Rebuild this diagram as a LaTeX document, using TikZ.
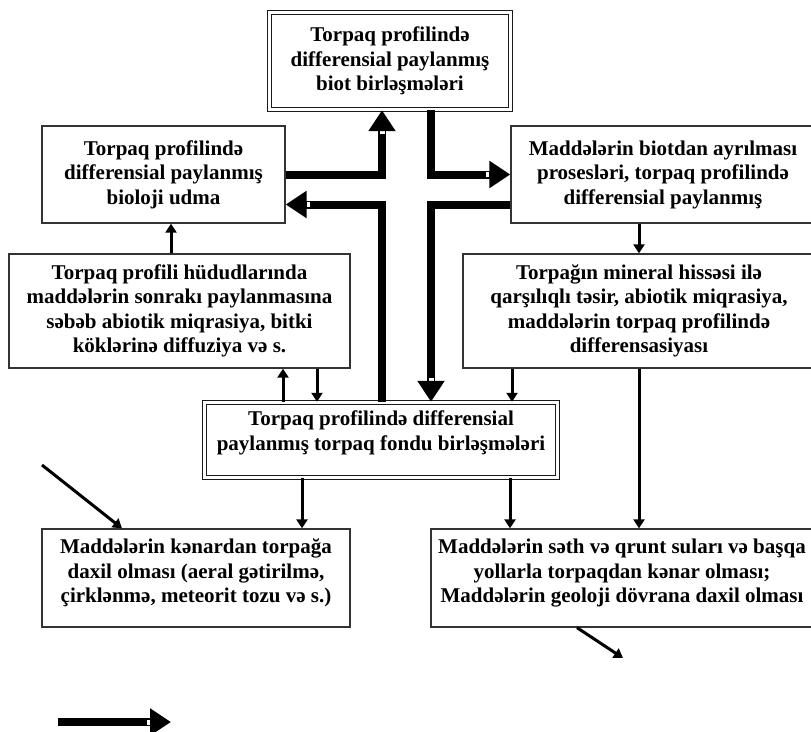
\documentclass[tikz,border=0pt]{standalone}
\usepackage{fontspec}
\setmainfont{Liberation Serif}
\usetikzlibrary{positioning, arrows.meta, calc}

\begin{document}
\begin{tikzpicture}[
    x=1pt, y=-1pt,
    font=\fontsize{21pt}{24.5pt}\selectfont\bfseries,
    kasten/.style={draw=black!80, line width=1.3pt, align=center, inner sep=0pt},
    doppelkasten/.style={kasten, draw=black!90, double, double distance=2.8pt, line width=1.4pt},
    dick/.style={line width=8pt, -{Rectangle[white, length=3pt, width=5pt, sep=0pt] Triangle[length=21pt, width=26pt]}},
    duenn/.style={line width=3pt, -{Triangle[length=9pt, width=11pt]}}
  ]
  \useasboundingbox (0,0) rectangle (811,731);
  \clip (0,0) rectangle (811,731);

  % Kaesten
  \node[doppelkasten, minimum width=241pt, minimum height=97pt] (biot) at (390,61)
    {Torpaq profilində\\ differensial paylanmış\\ biot birləşmələri};
  \node[kasten, minimum width=243pt, minimum height=97pt] (udma) at (163.5,174.5)
    {Torpaq profilində\\ differensial paylanmış\\ bioloji udma};
  \node[kasten, minimum width=304pt, minimum height=97pt] (ayril) at (663,174.5)
    {Maddələrin biotdan ayrılması\\ prosesləri, torpaq profilində\\ differensial paylanmış};
  \node[kasten, minimum width=341pt, minimum height=114pt] (abiot) at (179.5,311)
    {Torpaq profili hüdudlarında\\ maddələrin sonrakı paylanmasına\\ səbəb abiotik miqrasiya, bitki\\ köklərinə diffuziya və s.};
  \node[kasten, minimum width=352pt, minimum height=114pt] (mineral) at (639,311)
    {Torpağın mineral hissəsi ilə\\ qarşılıqlı təsir, abiotik miqrasiya,\\ maddələrin torpaq profilində\\ differensasiyası};
  \node[doppelkasten, minimum width=353pt, minimum height=75pt] (fond) at (381,440)
    {Torpaq profilində differensial\\ paylanmış torpaq fondu birləşmələri\\[-6pt]};
  \node[kasten, minimum width=308pt, minimum height=98pt] (kenar) at (196,578)
    {Maddələrin kənardan torpağa\\ daxil olması (aeral gətirilmə,\\ çirklənmə, meteorit tozu və s.)\\[-10pt]};
  \node[kasten, minimum width=382pt, minimum height=98pt] (geol) at (622,578)
    {Maddələrin səth və qrunt suları və başqa\\ yollarla torpaqdan kənar olması;\\ Maddələrin geoloji dövrana daxil olması\\[-10pt]};

  % Hilfslinien
  \coordinate (xl) at (382,0);
  \coordinate (xr) at (431,0);
  \coordinate (xa) at (171,0);
  \coordinate (xb) at (283,0);
  \coordinate (xc) at (317,0);
  \coordinate (xd) at (512,0);
  \coordinate (xe) at (302,0);
  \coordinate (xf) at (510,0);
  \coordinate (xk) at (122,0);
  \coordinate (xh) at (577,0);
  \coordinate (ein) at (42,465);
  \coordinate (aus) at (623,658);
  \coordinate (leg1) at (58,722);
  \coordinate (leg2) at (171,722);

  % dicke Pfeile
  \draw[dick] (udma.east) -| (biot.south -| xl);
  \draw[dick] (biot.south -| xr) |- (ayril.west);
  \draw[dick] ([yshift=-30pt]ayril.west) -| (fond.north -| xr);
  \draw[dick] (fond.north -| xl) |- ([yshift=-30pt]udma.east);

  % duenne Pfeile
  \draw[duenn] (abiot.north -| xa) -- (udma.south -| xa);
  \draw[duenn] (mineral.north |- ayril.south) -- (mineral.north);
  \draw[duenn] (fond.north -| xb) -- (abiot.south -| xb);
  \draw[duenn] (abiot.south -| xc) -- (fond.north -| xc);
  \draw[duenn] (mineral.south -| xd) -- (fond.north -| xd);
  \draw[duenn] (mineral.south) -- (mineral.south |- geol.north);
  \draw[duenn] (fond.south -| xe) -- (kenar.north -| xe);
  \draw[duenn] (fond.south -| xf) -- (geol.north -| xf);
  \draw[duenn] (ein) -- (kenar.north -| xk);
  \draw[duenn] (geol.south -| xh) -- (aus);

  % Legende
  \draw[dick] (leg1) -- (leg2);
\end{tikzpicture}
\end{document}
